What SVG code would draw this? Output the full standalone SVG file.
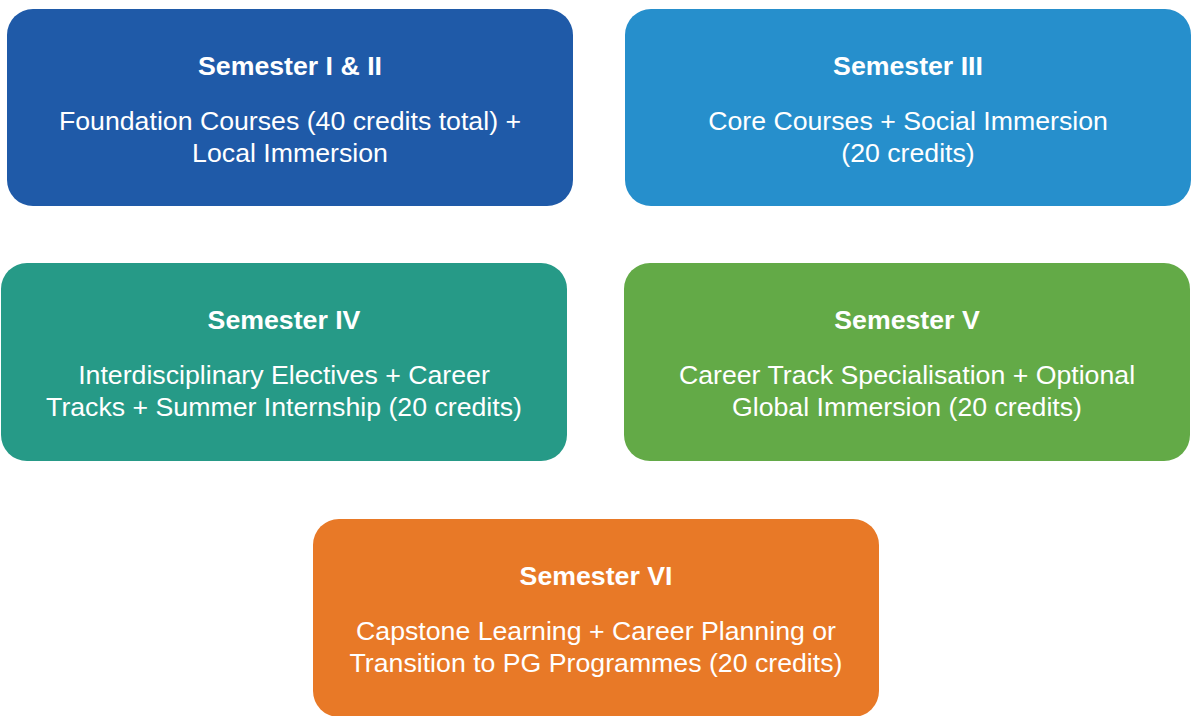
<svg xmlns="http://www.w3.org/2000/svg" width="1192" height="716" viewBox="0 0 1192 716">
<style>
.box{stroke:none}
.t{font-family:"Liberation Sans",Arial,sans-serif;font-size:26.7px;font-weight:bold;fill:#fff;text-anchor:middle}
.b{font-family:"Liberation Sans",Arial,sans-serif;font-size:26.7px;fill:#fff;text-anchor:middle}
</style>
<rect width="1192" height="716" fill="#fff"/>
<g id="sem1">
<rect class="box" x="7" y="9" width="566" height="197" rx="26" fill="#1f5aa8"/>
<text class="t" x="290" y="75">Semester I &amp; II</text>
<text class="b" x="290" y="130">Foundation Courses (40 credits total) +</text>
<text class="b" x="290" y="162">Local Immersion</text>
</g>
<g id="sem3">
<rect class="box" x="625" y="9" width="566" height="197" rx="26" fill="#268fcc"/>
<text class="t" x="908" y="75">Semester III</text>
<text class="b" x="908" y="130">Core Courses + Social Immersion</text>
<text class="b" x="908" y="162">(20 credits)</text>
</g>
<g id="sem4">
<rect class="box" x="1" y="263" width="566" height="198" rx="26" fill="#269a87"/>
<text class="t" x="284" y="329">Semester IV</text>
<text class="b" x="284" y="384">Interdisciplinary Electives + Career</text>
<text class="b" x="284" y="416">Tracks + Summer Internship (20 credits)</text>
</g>
<g id="sem5">
<rect class="box" x="624" y="263" width="566" height="198" rx="26" fill="#63aa47"/>
<text class="t" x="907" y="329">Semester V</text>
<text class="b" x="907" y="384">Career Track Specialisation + Optional</text>
<text class="b" x="907" y="416">Global Immersion (20 credits)</text>
</g>
<g id="sem6">
<rect class="box" x="313" y="519" width="566" height="198" rx="26" fill="#e87927"/>
<text class="t" x="596" y="585">Semester VI</text>
<text class="b" x="596" y="640">Capstone Learning + Career Planning or</text>
<text class="b" x="596" y="672">Transition to PG Programmes (20 credits)</text>
</g>
<g id="connectors"></g>
</svg>
